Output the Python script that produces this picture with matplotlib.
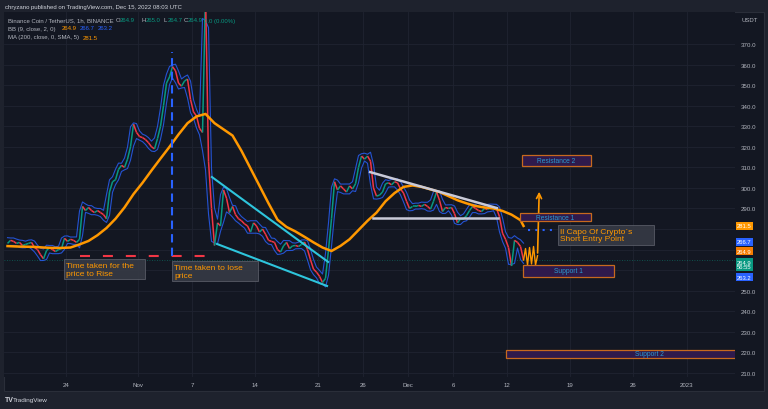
import numpy as np
import pandas as pd
import matplotlib
matplotlib.use("Agg")
import matplotlib.pyplot as plt
import matplotlib.dates as mdates
from matplotlib.patches import Rectangle
from matplotlib.collections import LineCollection

plt.rcParams['font.family'] = ['Liberation Sans', 'DejaVu Sans']

# BNB/USDT closes, one every 8 hours from 2022-10-17 12:00 UTC
close = [273, 274.5, 274, 273, 273.5, 272, 272.5, 273, 273.5, 271,
         270, 267.5, 265.5, 269.5, 271, 270, 269, 270, 270.5, 275.5,
         274, 275, 274.5, 273.5, 275, 291, 289, 290.5, 289, 288,
         289, 288, 287, 285, 298, 303, 304, 309, 311, 310,
         314, 320, 331, 327, 325, 324.5, 323.5, 322, 320, 319,
         324, 330, 340, 351, 354, 359, 357, 351, 349.5, 352,
         353, 343, 337, 335, 329, 327, 395, 313, 290, 272,
         283, 281.5, 299, 295, 288, 291, 287, 285, 284, 282.5,
         281.5, 278.5, 283, 281.5, 278.5, 280, 277.5, 274.5, 274, 273.5,
         270, 268.8, 271.8, 273.5, 270.5, 271.8, 272, 271.5, 272.5, 273.7,
         270, 265, 260.5, 259, 257, 254, 256, 270, 285, 303,
         299, 301, 299.5, 298, 301, 299.5, 302, 310, 315.5, 314,
         315.5, 313, 300, 296, 296.5, 298, 302, 302.5, 301.5, 303,
         302.5, 299.5, 297.5, 293.5, 290, 291, 291, 291.5, 291, 292,
         291, 289.7, 293.5, 298, 294, 288.5, 290.5, 290, 290.5, 287.5,
         283, 285, 285, 286.5, 289, 291, 290, 289, 288.5, 290,
         289.5, 291, 290.5, 290, 286, 278, 275, 271, 262, 274.5,
         273.5, 271.5, 264.9]
times = pd.date_range("2022-10-17 12:00", periods=len(close), freq="8h")

# MA(200) read once a day at 12:00 UTC, last point = last candle
ma_vals = [271.7, 271.5, 271.4, 271.3, 271, 270.8, 270.8, 271, 272.5, 274.2,
           277, 280.5, 285, 290.5, 297, 302.5, 308.5, 314.3, 320, 326,
           331.5, 334.8, 336, 331.5, 328.5, 325.5, 318, 309.5, 301, 292.5,
           284.5, 281, 278.8, 276.2, 273.5, 271, 269.3, 271.8, 275, 279.5,
           284, 288, 293.5, 297.5, 300.5, 301.2, 300.5, 299.3, 298, 296,
           294, 292.5, 291.2, 290.5, 290, 288.8, 287, 284.3, 281.5]
ma_times = list(pd.date_range("2022-10-17 12:00", periods=len(ma_vals) - 1, freq="1D")) + [times[-1]]

# legend / price-scale values
last_close = 264.9
bb_basis, bb_upper, bb_lower = 264.9, 266.7, 263.2
ma_last = 281.5

tick_dates = ["2022-10-24", "2022-11-01", "2022-11-07", "2022-11-14", "2022-11-21", "2022-11-26",
              "2022-12-01", "2022-12-06", "2022-12-12", "2022-12-19", "2022-12-26", "2023-01-01"]
tick_labels = ["24", "Nov", "7", "14", "21", "26", "Dec", "6", "12", "19", "26", "2023"]
price_ticks = np.arange(210, 371, 10)
hidden_ticks = [260, 270, 280]   # covered by the price tags

# drawings on the chart
red_dash_t = ["2022-10-25 13:00", "2022-11-09 00:00"]
red_dash_p = [267, 267]
blue_vert_t = ["2022-11-04 19:00", "2022-11-04 19:00"]
blue_vert_p = [267, 366]
cyan_up_t = ["2022-11-09 05:00", "2022-11-22 03:00"]
cyan_up_p = [305.3, 264]
cyan_lo_t = ["2022-11-09 19:00", "2022-11-22 00:00"]
cyan_lo_p = [272.7, 252.3]
tri_up_t = ["2022-11-26 19:00", "2022-12-10 21:00"]
tri_up_p = [307.7, 290.2]
tri_lo_t = ["2022-11-27 03:00", "2022-12-11 00:00"]
tri_lo_p = [285.4, 285.4]
entry_t = ["2022-12-14 08:00", "2022-12-17 08:00"]
entry_p = [279.5, 279.5]
zig_t = ["2022-12-13 20:00", "2022-12-14 01:20", "2022-12-14 06:40", "2022-12-14 12:00",
         "2022-12-14 17:20", "2022-12-14 22:40", "2022-12-15 04:00", "2022-12-15 09:20"]
zig_p = [264.9, 270.5, 262.5, 271, 263, 271.5, 262.5, 267]
arrow_tip_t, arrow_tip_p = "2022-12-15 14:00", 299.5

zones = [("Resistance 2", "2022-12-13 16:00", "2022-12-21 08:00", 310.7, 316.0),
         ("Resistance 1", "2022-12-13 10:40", "2022-12-21 08:00", 283.9, 287.8),
         ("Support 1", "2022-12-13 18:40", "2022-12-23 21:20", 256.7, 262.5),
         ("Support 2", "2022-12-11 21:20", "2023-01-12 16:00", 217.3, 221.2)]

# text boxes: label, left, right, top price, bottom price
notes = [("Time taken for the\nprice to Rise", "2022-10-23 17:20", "2022-11-01 18:40", 265.3, 255.6),
         ("Time taken to lose\nprice", "2022-11-04 19:00", "2022-11-14 08:00", 264.4, 254.6),
         ("Il Capo Of Crypto`s\nShort Entry Point", "2022-12-17 16:00", "2022-12-28 08:00", 281.9, 272.2)]

BG = "#131722"
FRAME = "#1e222d"
TXT = "#b2b5be"
GREEN = "#089981"
RED = "#f23645"
BLUE = "#2962ff"
ORANGE = "#ff9800"

W, H = 768, 410
fig = plt.figure(figsize=(W / 100, H / 100), dpi=100, facecolor=FRAME)
fig.patches.append(Rectangle((4 / W, 1 - 392 / H), 760 / W, 379 / H, transform=fig.transFigure,
                             fc=BG, ec="#2a2e39", lw=0.8, zorder=-5))
ax = fig.add_axes([4 / W, 1 - 378 / H, 731 / W, 365 / H])
ax.set_facecolor(BG)
for s in ax.spines.values():
    s.set_visible(False)

t = mdates.date2num(times)
c = np.array(close)

# price: segments coloured by direction
segs = [[(t[i], c[i]), (t[i + 1], c[i + 1])] for i in range(len(c) - 1)]
cols = [GREEN if c[i + 1] >= c[i] else RED for i in range(len(c) - 1)]
ax.add_collection(LineCollection(segs, colors=cols, linewidths=1.1, zorder=3))

# Bollinger-style envelope computed from the closes
s = pd.Series(c)
mid = s.rolling(3, min_periods=1, center=True).mean()
sd = s.rolling(3, min_periods=1, center=True).std().fillna(0)
ax.plot(t, mid + 0.8 * sd + 1.2, color=BLUE, lw=0.8, alpha=0.8, zorder=2)
ax.plot(t, mid - 0.8 * sd - 1.2, color=BLUE, lw=0.8, alpha=0.8, zorder=2)

ax.plot(mdates.date2num(pd.to_datetime(ma_times)), ma_vals, color=ORANGE, lw=1.8, zorder=4)

# last price line
ax.axhline(last_close, color=GREEN, lw=0.6, ls=(0, (1, 2)), alpha=0.6, zorder=1)


def d(v):
    return mdates.date2num(pd.to_datetime(v))


ax.plot(d(red_dash_t), red_dash_p, color=RED, lw=1.5, ls=(0, (4.8, 6.2)), zorder=5)
ax.plot(d(blue_vert_t), blue_vert_p, color=BLUE, lw=1.5, ls=(0, (4, 2.5)), zorder=6)
ax.plot(d(cyan_up_t), cyan_up_p, color="#2ec5dc", lw=1.5, zorder=6)
ax.plot(d(cyan_lo_t), cyan_lo_p, color="#2ec5dc", lw=1.5, zorder=6)
ax.plot(d(tri_up_t), tri_up_p, color="#c9cad8", lw=1.8, zorder=6)
ax.plot(d(tri_lo_t), tri_lo_p, color="#c9cad8", lw=1.8, zorder=6)
ax.plot(d(entry_t), entry_p, color=BLUE, lw=1.5, ls=(0, (1, 2.5)), zorder=6)
ax.plot(d(zig_t), zig_p, color=ORANGE, lw=1.0, zorder=6)
ax.annotate("", xy=(d(arrow_tip_t), arrow_tip_p), xytext=(d(zig_t[-1]), zig_p[-1]),
            arrowprops=dict(arrowstyle="->", color=ORANGE, lw=1.2, mutation_scale=9), zorder=6)

for label, t0, t1, p0, p1 in zones:
    x0, x1 = d(t0), d(t1)
    ax.add_patch(Rectangle((x0, p0), x1 - x0, p1 - p0, fc="#2f1a4c", ec="#c7691e", lw=0.9, zorder=7))
    ax.text((x0 + x1) / 2, (p0 + p1) / 2, label, color="#2b9bd0", fontsize=4.8,
            ha="center", va="center", zorder=8)

for label, t0, t1, ptop, pbot in notes:
    x0, x1 = d(t0), d(t1)
    ax.add_patch(Rectangle((x0, pbot), x1 - x0, ptop - pbot, fc="#363a45", ec="#5d606b",
                           lw=0.6, alpha=0.9, zorder=9))
    ax.text(x0 + 0.25, (ptop + pbot) / 2, label, color=ORANGE, fontsize=6.0, ha="left",
            va="center", linespacing=1.15, zorder=10)

base = d("2022-10-24")
ax.set_xlim(base - 6.89, base + 74.33)
ax.set_ylim(208.0, 385.6)

ax.set_yticks(price_ticks)
ax.set_yticklabels(["" if v in hidden_ticks else f"{v:.1f}" for v in price_ticks])
ax.yaxis.tick_right()
ax.set_xticks(d(tick_dates))
ax.set_xticklabels(tick_labels)
ax.tick_params(axis="both", length=0, labelsize=4.4, labelcolor=TXT)
ax.tick_params(axis="y", pad=3.8)
ax.tick_params(axis="x", pad=3.5)
ax.grid(True, color="#1f2331", lw=0.6)
ax.set_axisbelow(True)

# price scale tags
tags = [(ma_last, f"{ma_last:.1f}", "#ff9800", 0),
        (bb_upper, f"{bb_upper:.1f}", BLUE, 10.5),
        (bb_basis, f"{bb_basis:.1f}", "#f57c00", 6.3),
        (last_close, f"{last_close:.1f}\n56:55", GREEN, -3.2),
        (bb_lower, f"{bb_lower:.1f}", BLUE, -10)]
for val, txt, col, dy in tags:
    ax.annotate(txt, xy=(1, val), xycoords=ax.get_yaxis_transform(), xytext=(1.5, dy),
                textcoords="offset points", ha="left", va="center", fontsize=4.2, color="white",
                linespacing=0.95, annotation_clip=False,
                bbox=dict(boxstyle="square,pad=0.25", fc=col, ec="none"), zorder=10)


def ftext(x, y, s, **kw):
    kw.setdefault("fontsize", 4.3)
    kw.setdefault("color", TXT)
    fig.text(x / W, 1 - y / H, s, va="center", ha="left", **kw)


ftext(5, 7, "chryzano published on TradingView.com, Dec 15, 2022 08:03 UTC", fontsize=4.3, color="#d1d4dc")
ftext(741, 20, "USDT")

ftext(8, 21, "Binance Coin / TetherUS, 1h, BINANCE")
for x, k, v in [(116, "O", "264.9"), (142, "H", "265.0"), (164, "L", "264.7"), (184, "C", "264.9")]:
    ftext(x, 21, k)
    ftext(x + 4, 21, v, color=GREEN)
ftext(204, 21, "0.0 (0.00%)", color=GREEN)

ftext(8, 29, "BB (9, close, 2, 0)")
ftext(62, 29, f"{bb_basis:.1f}", color="#ff9800")
ftext(80, 29, f"{bb_upper:.1f}", color=BLUE)
ftext(98, 29, f"{bb_lower:.1f}", color=BLUE)
ftext(8, 38, "MA (200, close, 0, SMA, 5)")
ftext(83, 38, f"{ma_last:.1f}", color="#ff9800")

ftext(5, 401, "TV", fontsize=5, color="#d1d4dc", fontweight="bold")
ftext(13, 401, "TradingView", fontsize=4.6, color="#d1d4dc")

fig.savefig("out.png", dpi=100, facecolor=FRAME)
